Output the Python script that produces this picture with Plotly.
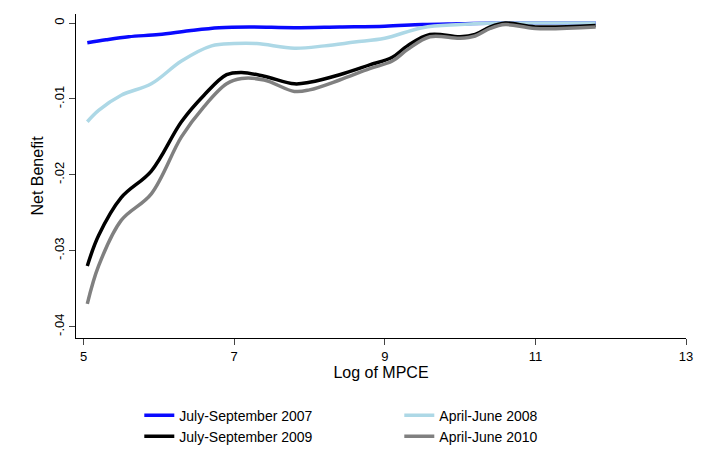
import plotly.graph_objects as go

x07 = [5.05, 5.3, 5.6, 6.0, 6.4, 6.8, 7.2, 7.8, 8.4, 9.0, 9.5, 10.0, 10.5, 11.0, 11.8]
y07 = [-0.0026, -0.0022, -0.0018, -0.0015, -0.001, -0.0006, -0.0005, -0.0006, -0.0005, -0.0004, -0.0002, -0.0001, 0.0, 0.0, 0.0]

x08 = [5.05, 5.2, 5.5, 5.9, 6.3, 6.7, 7.0, 7.3, 7.8, 8.2, 8.6, 9.0, 9.5, 10.0, 10.5, 11.0, 11.8]
y08 = [-0.013, -0.0115, -0.0095, -0.008, -0.005, -0.003, -0.0027, -0.0027, -0.0033, -0.003, -0.0025, -0.002, -0.0006, -0.0002, 0.0, 0.0, 0.0]

x09 = [5.05, 5.2, 5.5, 5.9, 6.3, 6.6, 6.9, 7.1, 7.4, 7.8, 8.0, 8.4, 8.8, 9.1, 9.3, 9.6, 10.0, 10.2, 10.4, 10.6, 11.0, 11.8]
y09 = [-0.032, -0.028, -0.023, -0.0195, -0.013, -0.0095, -0.0068, -0.0065, -0.007, -0.008, -0.0078, -0.0068, -0.0055, -0.0045, -0.003, -0.0015, -0.0018, -0.0015, -0.0005, 0.0, -0.0005, -0.0003]

x10 = x09
y10 = [-0.037, -0.032, -0.026, -0.0225, -0.015, -0.011, -0.008, -0.0073, -0.0075, -0.009, -0.0088, -0.0075, -0.006, -0.005, -0.0035, -0.0018, -0.002, -0.0017, -0.0007, -0.0002, -0.0007, -0.0005]

series = [
    ("July-September 2007", x07, y07, "#0a0aff"),
    ("April-June 2008", x08, y08, "#add8e6"),
    ("July-September 2009", x09, y09, "#000000"),
    ("April-June 2010", x10, y10, "#808080"),
]

fig = go.Figure()
for name, xs, ys, col in series:
    fig.add_trace(go.Scatter(x=xs, y=ys, name=name, mode="lines",
                             line=dict(color=col, width=3.5, shape="spline", smoothing=1)))

fig.update_layout(
    width=702, height=450,
    margin=dict(l=68, r=24, t=6, b=96),
    plot_bgcolor="white", paper_bgcolor="white",
    font=dict(family="Liberation Sans, Arial", size=13, color="black"),
    legend=dict(orientation="h", x=0.53, xanchor="center", y=-0.19, yanchor="top",
                entrywidth=215, font=dict(size=14), tracegroupgap=2),
    xaxis=dict(range=[4.9, 13.0], tickvals=[5, 7, 9, 11, 13], showline=True, linecolor="black",
               ticks="outside", ticklen=6, showgrid=False, zeroline=False,
               ticklabeloverflow="allow",
               title=dict(text="Log of MPCE", standoff=2)),
    yaxis=dict(range=[-0.0415, 0.0012], tickvals=[0, -0.01, -0.02, -0.03, -0.04],
               ticktext=["0", "-.01", "-.02", "-.03", "-.04"], tickangle=-90,
               showline=True, linecolor="black", ticks="outside", ticklen=6,
               showgrid=False, zeroline=False, title=dict(text="Net Benefit", standoff=4)),
)
fig.write_html("out.html")
